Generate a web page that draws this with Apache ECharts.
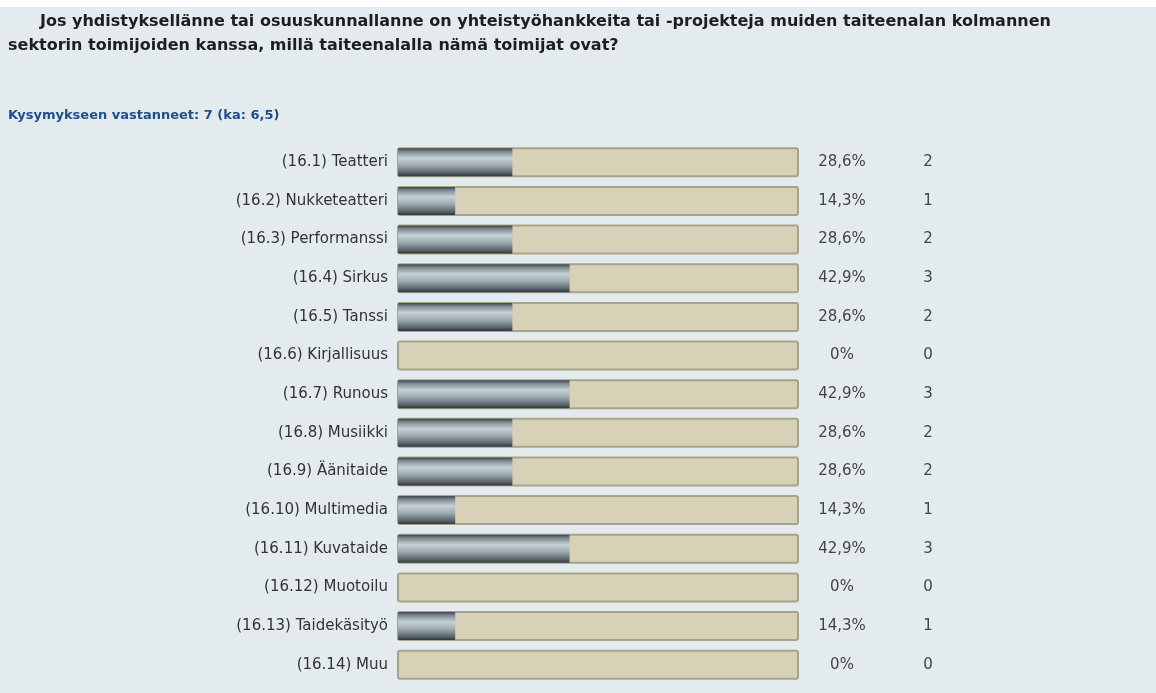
<!DOCTYPE html>
<html lang="fi">
<head>
    <meta charset="utf-8" />
    <script src="https://cdn.jsdelivr.net/npm/echarts@6/dist/echarts.min.js"></script>
</head>
<body style="margin: 0; background: #ffffff;">
    <div id="container" style="position: absolute; left: 0; top: 7px; width: 1156px; height: 686px;"></div>
    <script type="text/javascript">
        // data
        const categories = [
            '(16.1) Teatteri', '(16.2) Nukketeatteri', '(16.3) Performanssi', '(16.4) Sirkus',
            '(16.5) Tanssi', '(16.6) Kirjallisuus', '(16.7) Runous', '(16.8) Musiikki',
            '(16.9) Äänitaide', '(16.10) Multimedia', '(16.11) Kuvataide', '(16.12) Muotoilu',
            '(16.13) Taidekäsityö', '(16.14) Muu'
        ];
        const percents = [28.6, 14.3, 28.6, 42.9, 28.6, 0, 42.9, 28.6, 28.6, 14.3, 42.9, 0, 14.3, 0];
        const counts = [2, 1, 2, 3, 2, 0, 3, 2, 2, 1, 3, 0, 1, 0];
        const percentLabels = percents.map(function (p) {
            return p === 0 ? '0%' : p.toFixed(1).replace('.', ',') + '%';
        });

        var dom = document.getElementById('container');
        var myChart = echarts.init(dom, null, { renderer: 'canvas' });

        const fillGradient = new echarts.graphic.LinearGradient(0, 0, 0, 1, [
            { offset: 0, color: '#3c4449' },
            { offset: 0.12, color: '#7d8a90' },
            { offset: 0.35, color: '#c6d1d6' },
            { offset: 0.6, color: '#9eabb1' },
            { offset: 0.88, color: '#58646a' },
            { offset: 1, color: '#2e3539' }
        ]);
        const font = 'DejaVu Sans';

        var option = {
            backgroundColor: '#e4ebee',
            animation: false,
            title: [{
                text: 'Jos yhdistyksellänne tai osuuskunnallanne on yhteistyöhankkeita tai -projekteja muiden taiteenalan kolmannen',
                left: 40,
                top: 7,
                padding: 0,
                textStyle: { fontFamily: font, fontSize: 16, fontWeight: 'bold', color: '#1e1e1e' }
            }, {
                text: 'sektorin toimijoiden kanssa, millä taiteenalalla nämä toimijat ovat?',
                left: 8,
                top: 31,
                padding: 0,
                textStyle: { fontFamily: font, fontSize: 16, fontWeight: 'bold', color: '#1e1e1e' }
            }, {
                text: 'Kysymykseen vastanneet: 7 (ka: 6,5)',
                left: 8,
                top: 102,
                padding: 0,
                textStyle: { fontFamily: font, fontSize: 13, fontWeight: 'bold', color: '#1d4f8a' }
            }],
            grid: {
                left: 398,
                width: 400,
                top: 136,
                height: 541
            },
            xAxis: {
                type: 'value',
                min: 0,
                max: 100,
                show: false
            },
            yAxis: [{
                type: 'category',
                inverse: true,
                data: categories,
                axisLine: { show: false },
                axisTick: { show: false },
                axisLabel: { margin: 10, color: '#333333', fontFamily: font, fontSize: 15 }
            }, {
                type: 'category',
                inverse: true,
                position: 'right',
                data: percentLabels,
                axisLine: { show: false },
                axisTick: { show: false },
                axisLabel: { margin: 44, align: 'center', color: '#444444', fontFamily: font, fontSize: 15 }
            }, {
                type: 'category',
                inverse: true,
                position: 'right',
                data: counts,
                axisLine: { show: false },
                axisTick: { show: false },
                axisLabel: { margin: 130, align: 'center', color: '#444444', fontFamily: font, fontSize: 15 }
            }],
            series: [{
                type: 'bar',
                data: percents,
                barWidth: 28,
                showBackground: true,
                backgroundStyle: {
                    color: '#d6d1b7',
                    borderColor: '#a8a289',
                    borderWidth: 2,
                    borderRadius: 2
                },
                itemStyle: {
                    color: fillGradient,
                    borderRadius: 1
                }
            }]
        };

        myChart.setOption(option);
        window.addEventListener('resize', myChart.resize);
    </script>
</body>
</html>
